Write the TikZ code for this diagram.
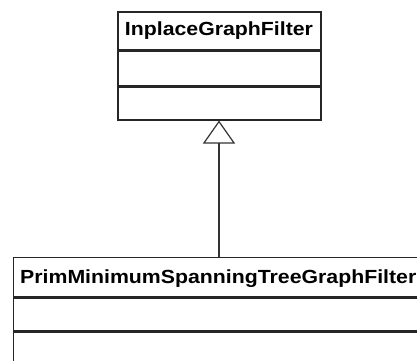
\documentclass[tikz,border=0pt]{standalone}
\usepackage{fontspec}
\setmainfont{Liberation Sans}
\usetikzlibrary{arrows.meta,positioning}
\begin{document}
\begin{tikzpicture}[x=1pt,y=-1pt,
  compart/.style={draw=black!85, line width=1.4pt, rectangle, inner sep=0pt, fill=white},
  clsname/.style={inner sep=0pt, font=\fontsize{19}{22}\selectfont\bfseries},
  inherit/.style={draw=black!80, line width=1.2pt,
    -{Triangle[open, length=23pt, width=32pt, line width=1.2pt]}}]
  \useasboundingbox[fill=white] (0,0) rectangle (417,360);
  % superclass: three compartments
  \node[compart, minimum width=203pt, minimum height=38pt] (supname) at (219.5,31) {};
  \node[compart, minimum width=203pt, minimum height=34pt, anchor=north] (supattr) at (supname.south) {};
  \node[compart, minimum width=203pt, minimum height=33pt, anchor=north] (supops) at (supattr.south) {};
  \node[clsname] (suptext) at ([xshift=-0.5pt]supname.center) {\scalebox{1.12}[1]{InplaceGraphFilter}};
  % subclass: runs past the right and lower edges
  \node[compart, minimum width=430pt, minimum height=39pt, anchor=north west] (subname) at (13,257) {};
  \node[compart, minimum width=430pt, minimum height=33pt, anchor=north] (subattr) at (subname.south) {};
  \node[compart, minimum width=430pt, minimum height=40pt, anchor=north] (subops) at (subattr.south) {};
  \node[clsname, anchor=west] (subtext) at ([xshift=7pt,yshift=-1.5pt]subname.west) {\scalebox{1.12}[1]{PrimMinimumSpanningTreeGraphFilter}};
  % generalization arrow
  \coordinate (subtop) at (219,257);
  \draw[inherit] (subtop) -- (subtop |- supops.south);
\end{tikzpicture}
\end{document}
